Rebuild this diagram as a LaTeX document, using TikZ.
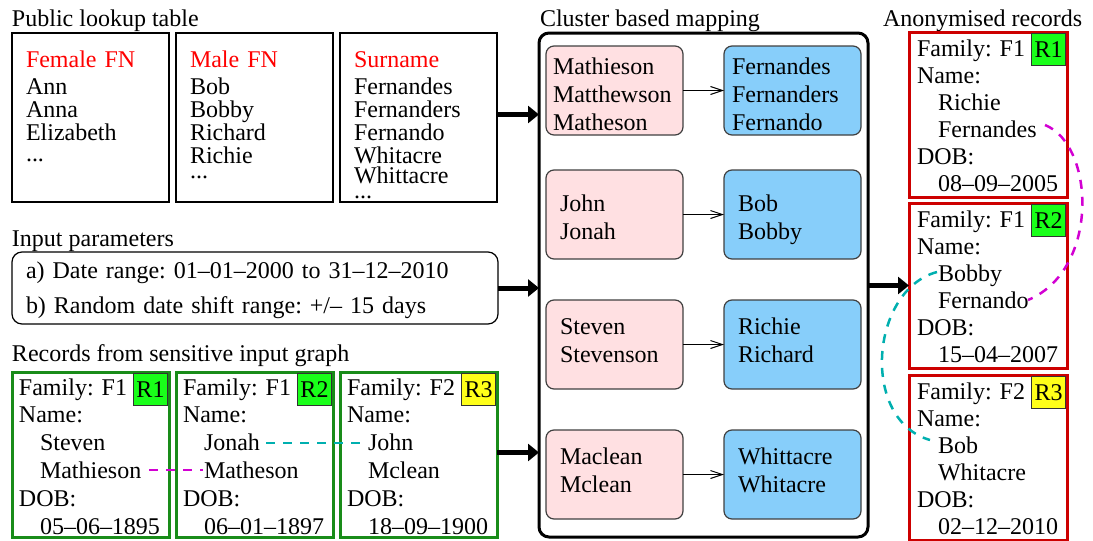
\documentclass[tikz,border=0pt]{standalone}
\usepackage{fontspec}
\setmainfont{Liberation Serif}
\usepackage{xcolor}
\usepackage{tikz}
\usetikzlibrary{arrows.meta}

\definecolor{recgreen}{RGB}{25,140,25}
\definecolor{anonred}{RGB}{205,0,0}
\definecolor{taggreen}{RGB}{25,255,25}
\definecolor{tagyellow}{RGB}{255,255,25}
\definecolor{clupink}{RGB}{255,224,226}
\definecolor{clublue}{RGB}{135,206,250}
\definecolor{linkmag}{RGB}{210,0,210}
\definecolor{linkcyan}{RGB}{0,175,175}

\newcommand{\indname}{\hspace*{21pt}}
\frenchspacing

\begin{document}
\begin{tikzpicture}[x=1pt, y=-1pt,
    every node/.style={font=\fontsize{24}{28}\selectfont, outer sep=0pt},
    title/.style={anchor=base west, inner sep=0pt},
    lookup/.style={draw, line width=1.2pt, anchor=north west, align=left, inner xsep=14pt, inner ysep=0pt,
        text width=129pt, text height=34pt, text depth=135pt, font=\fontsize{24}{23}\selectfont},
    record/.style={draw=recgreen, line width=3pt, anchor=north west, align=left, inner xsep=7pt, inner ysep=0pt,
        text width=143pt, text height=23pt, text depth=142pt, font=\fontsize{24}{27.8}\selectfont},
    anon/.style={record, draw=anonred, inner xsep=8pt, text width=142pt, text height=24pt, text depth=141pt,
        font=\fontsize{24}{27}\selectfont},
    tag/.style={draw=black!80, line width=0.8pt, anchor=north east, minimum width=34pt, minimum height=32pt, inner sep=0pt},
    clu/.style={draw=black!75, line width=1.2pt, rounded corners=8pt, anchor=north west, align=left,
        inner xsep=14pt, inner ysep=0pt, text width=109pt, text height=34pt, text depth=55pt},
    bigarrow/.style={line width=5pt, -{Triangle[length=11pt, width=17pt]}},
    maparrow/.style={line width=1pt, -{Straight Barb[length=12pt, width=8pt]}},
    link/.style={line width=2.5pt, dash pattern=on 9pt off 8pt}]
    \useasboundingbox (0,0) rectangle (1093,541);

    % Public lookup table
    \node[title] at (12,26) {Public lookup table};
    \node[lookup] (fem) at (12,33) {\textcolor{red}{Female FN}\\[4pt] Ann\\ Anna\\ Elizabeth\\[-2pt] ...};
    \node[lookup] (male) at (176,33) {\textcolor{red}{Male FN}\\[4pt] Bob\\ Bobby\\ Richard\\ Richie\\[-8pt] ...};
    \node[lookup] (sur) at (340,33) {\textcolor{red}{Surname}\\[4pt] Fernandes\\ Fernanders\\ Fernando\\ Whitacre\\[-3pt] Whittacre\\[-8pt] ...};

    % Input parameters
    \node[title] at (12,246) {Input parameters};
    \node[draw, line width=1.2pt, rounded corners=10pt, anchor=north west, align=left, inner xsep=14pt, inner ysep=0pt,
        text width=458pt, text height=26pt, text depth=46pt, font=\fontsize{24}{35}\selectfont] (param) at (12,252)
        {a) Date range: 01–01–2000 to 31–12–2010\\ b) Random date shift range: +/– 15 days};

    % Records from the input graph
    \node[title] at (12,361) {Records from sensitive input graph};
    \node[record] (rec1) at (12,372) {Family: F1\\ Name:\\ \indname Steven\\ \indname Mathieson\\ DOB:\\ \indname 05–06–1895};
    \node[record] (rec2) at (176,372) {Family: F1\\ Name:\\ \indname Jonah\\ \indname Matheson\\ DOB:\\ \indname 06–01–1897};
    \node[record] (rec3) at (340,372) {Family: F2\\ Name:\\ \indname John\\ \indname Mclean\\ DOB:\\ \indname 18–09–1900};
    \node[tag, fill=taggreen] (rtag1) at ([xshift=-1.5pt, yshift=-1.5pt]rec1.north east) {R1};
    \node[tag, fill=taggreen] (rtag2) at ([xshift=-1.5pt, yshift=-1.5pt]rec2.north east) {R2};
    \node[tag, fill=tagyellow] (rtag3) at ([xshift=-1.5pt, yshift=-1.5pt]rec3.north east) {R3};

    % Cluster based mapping
    \node[title] at (540,26) {Cluster based mapping};
    \node[draw, line width=3pt, rounded corners=10pt, anchor=north west, minimum width=329pt, minimum height=504pt, inner sep=0pt] (map) at (539,33) {};
    \node[clu, fill=clupink, inner xsep=7pt, text width=123pt, text height=28pt, text depth=61pt] (src1) at (546,46) {Mathieson\\ Matthewson\\ Matheson};
    \node[clu, fill=clublue, inner xsep=8pt, text width=121pt, text height=28pt, text depth=61pt] (dst1) at (724,46) {Fernandes\\ Fernanders\\ Fernando};
    \node[clu, fill=clupink, text height=41pt, text depth=48pt] (src2) at (546,170) {John\\ Jonah};
    \node[clu, fill=clublue, text height=41pt, text depth=48pt] (dst2) at (724,170) {Bob\\ Bobby};
    \node[clu, fill=clupink] (src3) at (546,300) {Steven\\ Stevenson};
    \node[clu, fill=clublue] (dst3) at (724,300) {Richie\\ Richard};
    \node[clu, fill=clupink] (src4) at (546,430) {Maclean\\ Mclean};
    \node[clu, fill=clublue] (dst4) at (724,430) {Whittacre\\ Whitacre};
    \foreach \i in {1,...,4}
        \draw[maparrow] (src\i) -- (dst\i);

    % Anonymised records
    \node[title] at (883,26) {Anonymised records};
    \node[anon] (anon1) at (909,32) {Family: F1\\ Name:\\ \indname Richie\\ \indname Fernandes\\ DOB:\\ \indname 08–09–2005};
    \node[anon] (anon2) at (909,203) {Family: F1\\ Name:\\ \indname Bobby\\ \indname Fernando\\ DOB:\\ \indname 15–04–2007};
    \node[anon] (anon3) at (909,375) {Family: F2\\ Name:\\ \indname Bob\\ \indname Whitacre\\ DOB:\\ \indname 02–12–2010};
    \node[tag, fill=taggreen] (atag1) at ([xshift=-1.5pt, yshift=-1.5pt]anon1.north east) {R1};
    \node[tag, fill=taggreen] (atag2) at ([xshift=-1.5pt, yshift=-1.5pt]anon2.north east) {R2};
    \node[tag, fill=tagyellow] (atag3) at ([xshift=-1.5pt, yshift=-1.5pt]anon3.north east) {R3};

    % Edges
    \draw[bigarrow] ([yshift=3pt]sur.east) -- ([yshift=3pt]sur.east -| map.west);
    \draw[bigarrow] (param.east) -- (param.east -| map.west);
    \draw[bigarrow] ([yshift=2pt]rec3.east) -- ([yshift=2pt]rec3.east -| map.west);
    \draw[bigarrow] (map.east |- anon2.west) -- (anon2.west);

    % Links between matching names
    \coordinate (mathieson) at (149,470);
    \coordinate (matheson) at (203,470);
    \coordinate (jonah) at (266,443);
    \coordinate (john) at (363,443);
    \coordinate (fernandes) at (1045,125);
    \coordinate (fernando) at (1028,300);
    \coordinate (bobby) at (937,272);
    \coordinate (bob) at (930,440);
    \draw[link, linkmag] (mathieson) -- (matheson);
    \draw[link, linkcyan] (jonah) -- (john);
    \draw[link, linkmag] (fernandes) .. controls (1095,145) and (1100,270) .. (fernando);
    \draw[link, linkcyan] (bobby) .. controls (870,290) and (860,420) .. (bob);
\end{tikzpicture}
\end{document}
